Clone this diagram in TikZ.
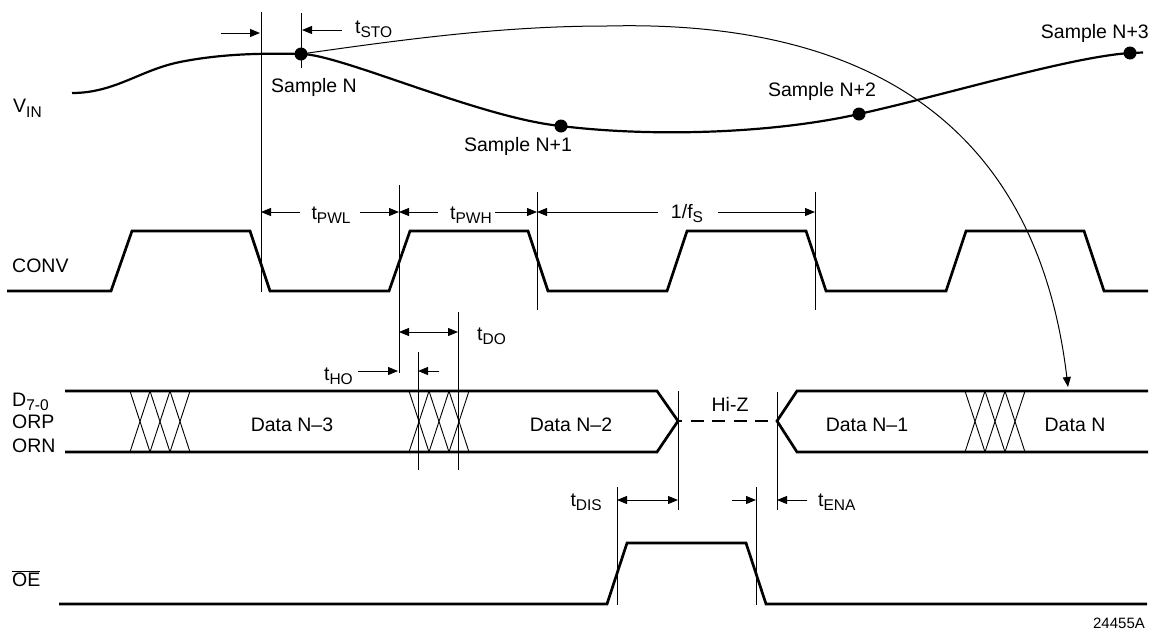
\documentclass[tikz,border=0pt]{standalone}
\usepackage{fontspec}
\setmainfont{Liberation Sans}
\usetikzlibrary{arrows.meta}
\newcommand{\sbs}[1]{\raisebox{-4.5pt}{\fontsize{15.5}{16}\selectfont #1}}
\tikzset{
  sig/.style={line width=2.7pt, line join=miter},
  vin/.style={line width=2.2pt},
  thinln/.style={line width=1pt},
  hatch/.style={line width=0.9pt},
  dimarrow/.style={line width=1pt, -{Triangle[length=10pt,width=8pt]}},
  ddim/.style={line width=1pt, {Triangle[length=10pt,width=8pt]}-{Triangle[length=10pt,width=8pt]}},
  lbl/.style={font=\fontsize{19.5}{22}\selectfont, inner sep=0pt, anchor=base},
  dotnode/.style={circle, fill=black, inner sep=0pt, minimum size=13pt},
}
\begin{document}
\begin{tikzpicture}[x=1pt,y=-1pt]
\useasboundingbox (0,0) rectangle (1151,630);

% ---------- VIN ----------
\node[dotnode] (sN)  at (301,54) {};
\node[dotnode] (sN1) at (561,126) {};
\node[dotnode] (sN2) at (859,114) {};
\node[dotnode] (sN3) at (1130,53) {};
\coordinate (vstart) at (72,93);
\coordinate (vmid) at (180,62);
\coordinate (vend) at (1143,52.5);
\draw[vin] (vstart) .. controls (115,93) and (140,70) .. (vmid)
  .. controls (220,54) and (260,53) .. (sN.center)
  .. controls (340,54) and (480,118) .. (sN1.center)
  .. controls (650,137) and (770,134) .. (sN2.center)
  .. controls (949,94) and (1070,57) .. (sN3.center)
  -- (vend);

\node[lbl, anchor=base west] (vinl) at (13,112) {V\raisebox{-1pt}{\sbs{IN}}};
\node[lbl] (lN)  at (314,92)  {Sample N};
\node[lbl] (lN1) at (518,151) {Sample N+1};
\node[lbl] (lN2) at (822,96)  {Sample N+2};
\node[lbl, anchor=base east] (lN3) at (1149,38) {Sample N+3};

% arc from sample N to data N
\coordinate (peak) at (607,26);
\coordinate (dN) at (1068,387);
\draw[thinln, -{Triangle[length=10pt,width=8pt]}] (sN.center) .. controls (400,40) and (500,26) .. (peak)
  .. controls (850,20) and (1035,110) .. (dN);

% t_STO
\coordinate (v1t) at (261,12);  \coordinate (v1b) at (261,292);
\coordinate (v2t) at (301,13);  \coordinate (v2b) at (301,68);
\draw[thinln] (v1t) -- (v1b);
\draw[thinln] (v2t) -- (v2b);
\coordinate (s1) at (221,33); \coordinate (s1e) at (260,33);
\coordinate (s2) at (342,30); \coordinate (s2e) at (302,30);
\draw[dimarrow] (s1) -- (s1e);
\draw[dimarrow] (s2) -- (s2e);
\node[lbl, anchor=base west] (tsto) at (355,33) {t\sbs{STO}};

% ---------- CONV ----------
\node[lbl, anchor=base west] (convl) at (12,272) {CONV};
\draw[sig] (7,291) -- (111,291) -- (132,231) -- (250,231) -- (270,291) -- (389,291)
  -- (410,231) -- (528,231) -- (548,291) -- (667,291) -- (687,231) -- (806,231)
  -- (826,291) -- (946,291) -- (966,231) -- (1084,231) -- (1104,291) -- (1148,291);

\coordinate (v3t) at (399,185); \coordinate (v3b) at (399,373);
\coordinate (v4t) at (537,192); \coordinate (v4b) at (537,310);
\coordinate (v5t) at (815,192); \coordinate (v5b) at (815,310);
\draw[thinln] (v3t) -- (v3b);
\draw[thinln] (v4t) -- (v4b);
\draw[thinln] (v5t) -- (v5b);

\draw[dimarrow] (300,212) -- (261,212);
\draw[dimarrow] (360,212) -- (399,212);
\node[lbl] (tpwl) at (331,219) {t\sbs{PWL}};
\draw[dimarrow] (438,212) -- (399,212);
\draw[dimarrow] (495,212) -- (537,212);
\node[lbl] (tpwh) at (471,219) {t\sbs{PWH}};
\draw[dimarrow] (658,212) -- (537,212);
\draw[dimarrow] (718,212) -- (815,212);
\node[lbl] (fs) at (687,218) {1/f\sbs{S}};

% ---------- DATA ----------
\node[lbl, anchor=base west] (dl) at (12,406) {D\sbs{7-0}};
\node[lbl, anchor=base west] (orp) at (12,428) {ORP};
\node[lbl, anchor=base west] (orn) at (12,452) {ORN};

\draw[sig] (65,391) -- (657,391) -- (678,421) -- (657,452) -- (65,452);
\draw[sig, dash pattern=on 13pt off 8.5pt, dash phase=9pt] (678,421) -- (777,421);
\draw[sig] (1148,391) -- (797,391) -- (777,421) -- (797,452) -- (1148,452);

\foreach \xo in {130,409,965}{
  \foreach \k in {0,1,2}{
    \draw[hatch] (\xo+20*\k,391) -- (\xo+20*\k+20,452);
    \draw[hatch] (\xo+20*\k+20,391) -- (\xo+20*\k,452);
  }
}

\node[lbl] (d3) at (292,431) {Data N\textendash 3};
\node[lbl] (d2) at (571,431) {Data N\textendash 2};
\node[lbl] (hz) at (730,411) {Hi-Z};
\node[lbl] (d1) at (867,431) {Data N\textendash 1};
\node[lbl] (d0) at (1075,431) {Data N};

\coordinate (v6t) at (418,352); \coordinate (v6b) at (418,470);
\coordinate (v7t) at (458,312); \coordinate (v7b) at (458,470);
\draw[thinln] (v6t) -- (v6b);
\draw[thinln] (v7t) -- (v7b);
\draw[ddim] (399,332) -- (458,332);
\node[lbl, anchor=base west] (tdo) at (477,340) {t\sbs{DO}};
\draw[dimarrow] (358,371) -- (398,371);
\draw[dimarrow] (439,371) -- (418,371);
\node[lbl, anchor=base east] (tho) at (353,380) {t\sbs{HO}};

\coordinate (v8t) at (678,391); \coordinate (v8b) at (678,510);
\coordinate (v9t) at (777,392); \coordinate (v9b) at (777,510);
\draw[thinln] (v8t) -- (v8b);
\draw[thinln] (v9t) -- (v9b);

% ---------- OE ----------
\node[lbl, anchor=base west] (oel) at (12,586) {$\overline{\hbox{\fontsize{19.5}{22}\selectfont OE}}$};
\draw[sig] (59,604) -- (607,604) -- (627,543) -- (746,543) -- (766,604) -- (1147,604);
\coordinate (v10t) at (617,487); \coordinate (v10b) at (617,605);
\coordinate (v11t) at (756,487); \coordinate (v11b) at (756,605);
\draw[thinln] (v10t) -- (v10b);
\draw[thinln] (v11t) -- (v11b);
\draw[ddim] (617,500) -- (678,500);
\node[lbl, anchor=base east] (tdis) at (602,506) {t\sbs{DIS}};
\draw[dimarrow] (732,500) -- (756,500);
\draw[dimarrow] (807,500) -- (777,500);
\node[lbl, anchor=base west] (tena) at (818,506) {t\sbs{ENA}};

\node[lbl, font=\fontsize{15}{17}\selectfont] (fig) at (1119,628) {24455A};
\end{tikzpicture}
\end{document}
